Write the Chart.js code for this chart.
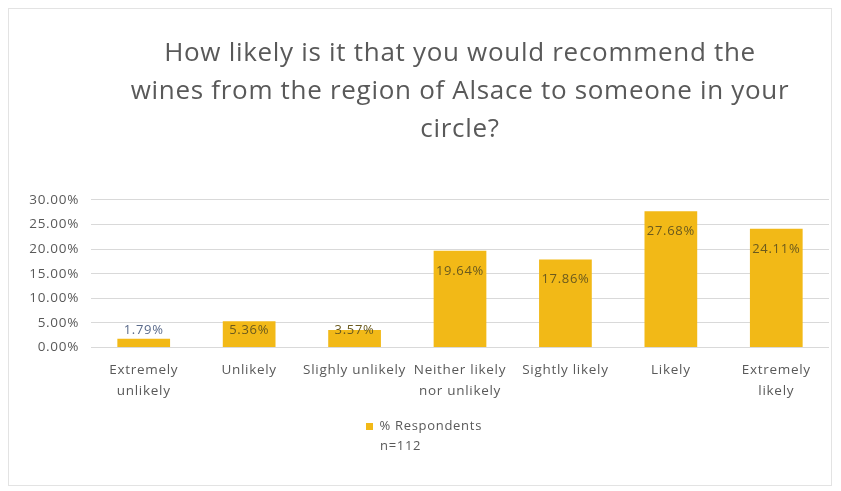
<!DOCTYPE html>
<html>
<head>
<meta charset="utf-8">
<script src="https://cdn.jsdelivr.net/npm/chart.js@4"></script>
<style>
    body { margin: 0; background: #ffffff; }
    #wrap {
        position: absolute; left: 8px; top: 8px;
        width: 822px; height: 476px;
        border: 1px solid #e3e3e3;
        background: #ffffff;
    }
</style>
</head>
<body>
<div id="wrap"><canvas id="likelyChart"></canvas></div>
<script>
// chart data
const categories = [
    ["Extremely", "unlikely"],
    "Unlikely",
    "Slighly unlikely",
    ["Neither likely", "nor unlikely"],
    "Sightly likely",
    "Likely",
    ["Extremely", "likely"]
];
const respondents = [1.79, 5.36, 3.57, 19.64, 17.86, 27.68, 24.11];
const yTicks = [0, 5, 10, 15, 20, 25, 30];
const seriesName = "% Respondents";
const sampleNote = "n=112";
const titleLines = [
    "How likely is it that you would recommend the",
    "wines from the region of Alsace to someone in your",
    "circle?"
];

const textGrey = "#595959";
const fontFamily = "'Open Sans', 'Noto Sans', sans-serif";

// the reference text is a bit spaced out, so widen every glyph run slightly
const spacingPlugin = {
    id: "spacingPlugin",
    beforeLayout(chart) { chart.ctx.letterSpacing = "0.7px"; },
    beforeDraw(chart) { chart.ctx.letterSpacing = "0.7px"; }
};

// draws the value labels near the top inside each bar, and the n= note under the legend
const labelPlugin = {
    id: "labelPlugin",
    afterDatasetsDraw(chart) {
        let ctx = chart.ctx;
        let meta = chart.getDatasetMeta(0);
        let zeroY = chart.scales.y.getPixelForValue(0);
        ctx.save();
        ctx.font = "13px " + fontFamily;
        ctx.textAlign = "center";
        ctx.textBaseline = "middle";
        meta.data.forEach((bar, i) => {
            let y = Math.min(bar.y + 20, zeroY - 17);
            ctx.fillStyle = respondents[i] < 3 ? "#5a6a8a" : "#6b5a1e";
            ctx.fillText(respondents[i].toFixed(2) + "%", bar.x, y);
        });
        ctx.restore();
    },
    afterDraw(chart) {
        let box = chart.legend.legendHitBoxes[0];
        if (!box) return;
        let ctx = chart.ctx;
        ctx.save();
        ctx.font = "13px " + fontFamily;
        ctx.fillStyle = textGrey;
        ctx.textAlign = "left";
        ctx.textBaseline = "middle";
        ctx.fillText(sampleNote, box.left + 14, box.top + box.height / 2 + 20);
        ctx.restore();
    }
};

document.addEventListener("DOMContentLoaded", function () {
    let ctx = document.getElementById("likelyChart").getContext("2d");

    let likelyChart = new Chart(ctx, {
        type: "bar",
        data: {
            labels: categories,
            datasets: [{
                label: seriesName,
                data: respondents,
                backgroundColor: "#F2B917",
                borderWidth: 0,
                categoryPercentage: 1,
                barPercentage: 0.5
            }]
        },
        options: {
            responsive: true,
            maintainAspectRatio: false,
            animation: false,
            layout: { padding: { left: 10, right: 2, top: 0, bottom: 42 } },
            plugins: {
                title: {
                    display: true,
                    fullSize: false,
                    text: titleLines,
                    color: textGrey,
                    font: { family: fontFamily, size: 26, weight: "normal", lineHeight: 1.46 },
                    padding: { top: 26, bottom: 51 }
                },
                legend: {
                    position: "bottom",
                    labels: {
                        color: textGrey,
                        font: { family: fontFamily, size: 13 },
                        boxWidth: 7,
                        boxHeight: 7,
                        padding: 14
                    }
                },
                tooltip: { enabled: false }
            },
            scales: {
                x: {
                    grid: { display: false },
                    border: { display: false },
                    ticks: {
                        color: textGrey,
                        font: { family: fontFamily, size: 13.5, lineHeight: 1.5 },
                        maxRotation: 0,
                        autoSkip: false,
                        padding: 5
                    }
                },
                y: {
                    min: 0,
                    max: 30,
                    afterBuildTicks: axis => {
                        axis.ticks = yTicks.map(v => ({ value: v }));
                    },
                    afterFit: axis => { axis.width = 72; },
                    grid: { color: "#d9d9d9", drawTicks: false },
                    border: { display: false },
                    ticks: {
                        color: textGrey,
                        font: { family: fontFamily, size: 13.5 },
                        padding: 12,
                        callback: v => v.toFixed(2) + "%"
                    }
                }
            }
        },
        plugins: [spacingPlugin, labelPlugin]
    });
});
</script>
</body>
</html>
